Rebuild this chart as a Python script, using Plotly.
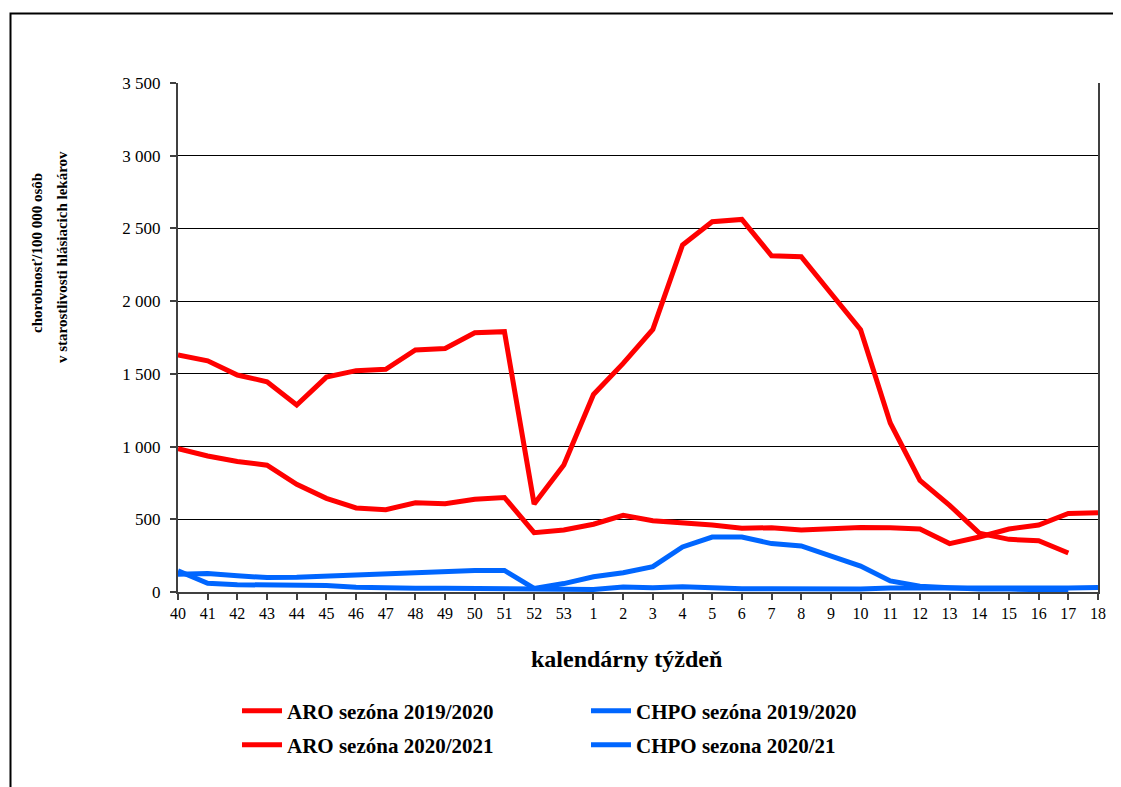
import plotly.graph_objects as go

weeks = [str(w) for w in list(range(40, 54)) + list(range(1, 19))]

aro_2019_2020 = [1630, 1590, 1492, 1446, 1286, 1478, 1522, 1531, 1664, 1675, 1783, 1790,
                 605, 873, 1358, 1572, 1806, 2386, 2546, 2562, 2312, 2306, 2054, 1804,
                 1162, 767, 596, 405, 362, 352, 268, None]
aro_2020_2021 = [985, 935, 898, 872, 740, 644, 578, 566, 614, 607, 637, 650,
                 408, 426, 466, 527, 490, 478, 460, 438, 442, 426, 438, 444,
                 442, 433, 333, 378, 433, 461, 540, 545]
chpo_2019_2020 = [122, 127, 112, 99, 101, 110, 112, 122, 132, 143, 148, 148,
                  25, 58, 105, 133, 174, 310, 378, 378, 333, 317, 247, 178,
                  76, 40, 30, 20, 20, 20, 12, None]
chpo_2020_21 = [145, 60, 50, 48, 42, 45, 33, 26, 25, 25, 25, 25,
                21, 18, 18, 35, 30, 36, 27, 23, 23, 20, 20, 20,
                28, 28, 24, 20, 22, 24, 27, 31]

y_ticks = [0, 500, 1000, 1500, 2000, 2500, 3000, 3500]
y_tick_text = ["0", "500", "1 000", "1 500", "2 000", "2 500", "3 000", "3 500"]

RED = "#FF0000"
BLUE = "#0066FF"
FONT = "Liberation Serif"

# page offset (body margin) compensation
OFF = 8
PAGE_W, PAGE_H = 1121, 787
W, H = PAGE_W - OFF, PAGE_H - OFF
# target plot area in page pixels: x 178..1098, y 83..592
L, R, T, B = 178 - OFF, PAGE_W - 1098, 83 - OFF, PAGE_H - 592
PW, PH = W - L - R, H - T - B


def px(x):
    return (x - OFF - L) / PW


def py(y):
    return (H - B - (y - OFF)) / PH


fig = go.Figure()
fig.add_trace(go.Scatter(x=weeks, y=aro_2019_2020, mode="lines", name="ARO sezóna 2019/2020",
                         line=dict(color=RED, width=5), legend="legend"))
fig.add_trace(go.Scatter(x=weeks, y=chpo_2019_2020, mode="lines", name="CHPO sezóna 2019/2020",
                         line=dict(color=BLUE, width=5), legend="legend"))
fig.add_trace(go.Scatter(x=weeks, y=aro_2020_2021, mode="lines", name="ARO sezóna 2020/2021",
                         line=dict(color=RED, width=5), legend="legend2"))
fig.add_trace(go.Scatter(x=weeks, y=chpo_2020_21, mode="lines", name="CHPO sezona 2020/21",
                         line=dict(color=BLUE, width=5), legend="legend2"))

legend_common = dict(
    orientation="h", xanchor="left", yanchor="middle",
    font=dict(family=FONT, size=21, color="black", weight="bold"),
    itemwidth=40, entrywidth=294, entrywidthmode="pixels",
    bgcolor="rgba(0,0,0,0)", itemclick=False, itemdoubleclick=False,
)

title_font = dict(family=FONT, size=15, color="black", weight="bold")

fig.update_layout(
    width=W, height=H,
    margin=dict(l=L, r=R, t=T, b=B, pad=0),
    paper_bgcolor="white", plot_bgcolor="white",
    showlegend=True,
    legend=dict(x=px(237), y=py(711), **legend_common),
    legend2=dict(x=px(237), y=py(745), **legend_common),
    xaxis=dict(
        type="category", range=[0, len(weeks) - 1],
        tickmode="linear", dtick=1,
        showgrid=False, zeroline=False,
        showline=True, linecolor="#404040", linewidth=2,
        ticks="outside", ticklen=6, tickcolor="#404040", tickwidth=1.5,
        tickfont=dict(family=FONT, size=16, color="black"),
    ),
    yaxis=dict(
        range=[0, 3500], tickvals=y_ticks, ticktext=y_tick_text,
        showgrid=True, gridcolor="#000000", gridwidth=1, zeroline=False,
        showline=True, linecolor="#404040", linewidth=2, mirror=True,
        ticks="outside", ticklen=6, tickcolor="#404040", tickwidth=1.5,
        tickfont=dict(family=FONT, size=17, color="black"),
        ticklabelstandoff=6,
    ),
    annotations=[
        dict(text="kalendárny týždeň", xref="paper", yref="paper",
             x=px(626), y=py(659), xanchor="center", yanchor="middle",
             showarrow=False, font=dict(family=FONT, size=24, color="black", weight="bold")),
        dict(text="chorobnosť/100 000 osôb",
             xref="paper", yref="paper", x=px(37), y=py(253),
             xanchor="center", yanchor="middle", textangle=-90, showarrow=False,
             font=title_font),
        dict(text="v starostlivosti hlásiacich lekárov",
             xref="paper", yref="paper", x=px(62), y=py(257),
             xanchor="center", yanchor="middle", textangle=-90, showarrow=False,
             font=title_font),
    ],
    shapes=[
        dict(type="rect", xref="paper", yref="paper",
             x0=px(10.5), x1=px(1140), y0=py(13.5), y1=py(810),
             line=dict(color="black", width=2), fillcolor="rgba(0,0,0,0)", layer="below"),
    ],
)

fig.write_html("out.html")
